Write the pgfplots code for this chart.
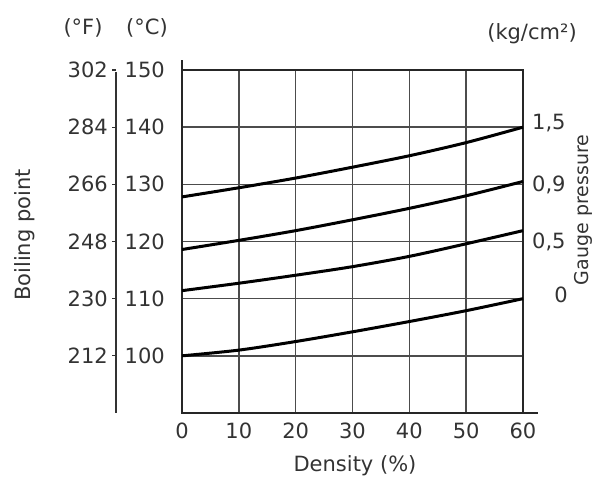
\documentclass[border=0pt]{standalone}
\usepackage{fontspec}
\setmainfont{DejaVu Sans}
\usepackage{pgfplots}
\pgfplotsset{compat=1.18}
\newcommand\f{\fontsize{21}{25}\selectfont}
\definecolor{txt}{gray}{0.2}
\definecolor{grd}{gray}{0.3}
\begin{document}
\begin{tikzpicture}
\path[use as bounding box] (-182pt,-66pt) rectangle (413pt,413pt);
\begin{axis}[
  at={(0,0)}, anchor=south west,
  scale only axis, width=341pt, height=343pt,
  xmin=0, xmax=60, ymin=90, ymax=150,
  xtick={0,10,...,60}, ytick={100,110,...,150},
  major tick length=0pt,
  grid=major,
  grid style={grd, line width=1.5pt},
  axis line style={black!85, line width=2.2pt},
  clip=false,
  tick label style={font=\f, text=txt},
  /pgf/number format/assume math mode=true,
  xticklabel style={inner sep=0pt, anchor=north, yshift=-10pt},
  yticklabel style={inner sep=0pt, anchor=east, xshift=-17pt},
]
\addplot[black, line width=3pt, smooth] coordinates {(0,100) (10,101) (20,102.5) (30,104.2) (40,106) (50,107.9) (60,110)};
\addplot[black, line width=3pt, smooth] coordinates {(0,111.4) (10,112.7) (20,114.1) (30,115.6) (40,117.4) (50,119.6) (60,121.9)};
\addplot[black, line width=3pt, smooth] coordinates {(0,118.6) (10,120.2) (20,121.9) (30,123.8) (40,125.8) (50,128) (60,130.5)};
\addplot[black, line width=3pt, smooth] coordinates {(0,127.8) (10,129.4) (20,131.1) (30,133) (40,135) (50,137.3) (60,140)};
\foreach \c/\fa in {150/302,140/284,130/266,120/248,110/230,100/212}{
  \edef\tmp{\noexpand\node[anchor=east, inner sep=0pt, font=\noexpand\f, text=txt] at ([xshift=-74pt]axis cs:0,\c) {\fa};
    \noexpand\draw[txt, line width=1.3pt] ([xshift=-69.5pt]axis cs:0,\c) -- ([xshift=-66pt]axis cs:0,\c);}
  \tmp
}
\end{axis}
% extensions of the frame
\draw[black!85, line width=2.2pt] (0,342pt) -- (0,353pt);
\draw[black!85, line width=2.2pt] (340pt,0) -- (356pt,0);
% Fahrenheit scale line
\draw[txt, line width=1.5pt] (-66pt,0) -- (-66pt,341pt);
% texts
\node[font=\f, text=txt] at (-99pt,385pt) {(°F)};
\node[font=\f, text=txt] at (-35pt,385pt) {(°C)};
\node[font=\f, text=txt] at (350pt,379pt) {(kg/cm²)};
\node[font=\f, text=txt, rotate=90] at (-157pt,178pt) {Boiling point};
\node[font=\fontsize{19}{23}\selectfont, text=txt, rotate=90] at (401pt,203pt) {Gauge pressure};
\node[font=\f, text=txt, anchor=base] at (173pt,-59pt) {Density (\%)};
\node[font=\f, text=txt, anchor=west, inner sep=0pt] at (350pt,290pt) {1,5};
\node[font=\f, text=txt, anchor=west, inner sep=0pt] at (350pt,228pt) {0,9};
\node[font=\f, text=txt, anchor=west, inner sep=0pt] at (350pt,171pt) {0,5};
\node[font=\f, text=txt, anchor=east, inner sep=0pt] at (386pt,118pt) {0};
\end{tikzpicture}
\end{document}
